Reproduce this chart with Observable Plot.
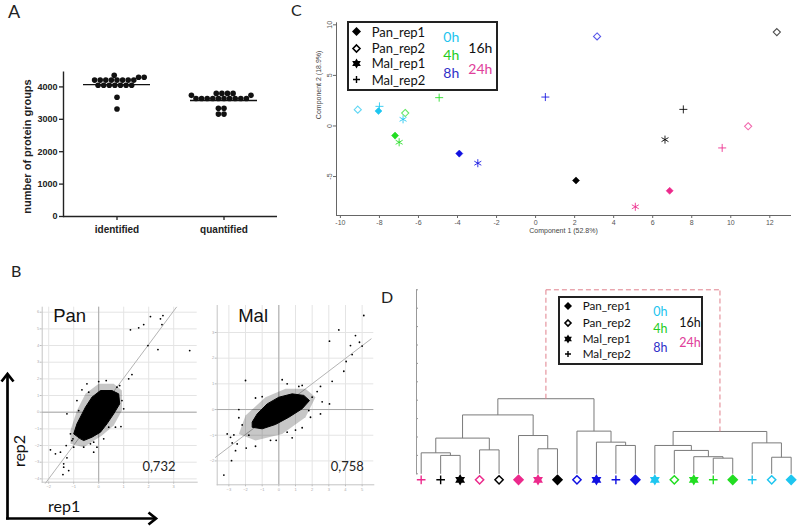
<!DOCTYPE html>
<html><head><meta charset="utf-8">
<script src="https://cdn.jsdelivr.net/npm/d3@7"></script>
<script src="https://cdn.jsdelivr.net/npm/@observablehq/plot@0.6"></script>
<style>
html,body{margin:0;padding:0;background:#fff;}
#fig{position:relative;width:800px;height:527px;overflow:hidden;background:#fff;font-family:Lato,"Open Sans",sans-serif;}
.t{position:absolute;line-height:1;white-space:nowrap;font-family:Lato,"Open Sans",sans-serif;}
.legend{position:absolute;border:2px solid #222;background:#fff;box-sizing:border-box;}
.legend .t{transform:translateY(-50%);}
.legend svg{position:absolute;}
</style></head><body><div id="fig"></div>
<script>
// ---------- Panel A data (listed in swarm placement order) ----------
const aCategories = ["identified", "quantified"];
const aIdentified = [4210, 4210, 4210, 4210, 4210, 4210, 4210, 4210, 4050, 4050, 4050, 4050, 4050, 4050, 4050, 4300, 4300, 4360, 3680, 3320];
const aQuantified = [3640, 3640, 3640, 3640, 3640, 3640, 3640, 3640, 3640, 3640, 3800, 3800, 3800, 3800, 3740, 3740, 3340, 3340, 3160, 3160];
const aMedians = [4070, 3580];
const aTicks = [0, 1000, 2000, 3000, 4000];
const aYLabel = "number of protein groups";

// ---------- Panel B data ([rep1, rep2]) ----------
const panCore = [[-0.73,-1.6],[-1.0,-1.3],[-0.87,-0.7],[-0.53,0.3],[-0.27,0.9],[0.07,1.3],[0.53,1.3],[0.8,1.1],[0.84,0.5],[0.6,-0.1],[0.33,-0.7],[0.07,-1.2],[-0.27,-1.5],[-0.6,-1.7]];
const panHalo = [[-1.13,-1.9],[-0.6,-2.1],[0.13,-1.4],[0.6,-0.8],[0.93,0.1],[0.93,1.3],[0.6,1.7],[0,1.7],[-0.53,1.1],[-0.87,0.1],[-1.13,-1.1]];
const panPoints = [[2.07,5.74],[2.57,5.8],[2.47,5.6],[1.8,5.26],[1.6,5.06],[1.27,4.94],[2.53,5.26],[1.97,4.0],[2.37,3.76],[3.64,3.7],[1.33,2.26],[1.2,2.0],[0.84,1.6],[0,1.84],[-0.47,1.7],[-0.67,1.34],[-1.27,-0.1],[-1.93,-2.26],[-1.73,-2.5],[-1.53,-2.4],[-1.4,-3.1],[-1.4,-3.3],[-1.43,-3.74],[-1.2,-3.5],[-1.27,-2.74],[-1.07,-1.7],[-1.0,-2.1],[-0.6,-2.1],[-0.2,-1.8],[0.89,-0.86],[0.67,-0.9],[0.4,-0.9],[-0.87,0.7],[-0.8,0.1],[0.73,1.5],[0.93,0.7],[-1.13,-1.3],[-1.03,-1.6],[-0.33,-1.9],[-0.07,-2.1],[1.0,0.2],[0.3,1.9],[-0.4,1.2],[-1.3,-2.0],[-0.2,-2.4],[0.2,-1.6]];
const panFit = [[-2.13,-4.26],[3.11,6.3]];
const panXTicks = [-2,-1,0,1,2,3];
const panYTicks = [-4,-3,-2,-1,0,1,2,3,4,5,6];
const panR = "0,732";

const malCore = [[-1.6,-0.69],[-1.0,-0.75],[-0.2,-0.58],[0.6,-0.3],[1.4,0.03],[1.84,0.35],[1.5,0.55],[0.8,0.61],[0,0.48],[-0.7,0.22],[-1.3,-0.17],[-1.6,-0.49]];
const malHalo = [[-2.4,-0.95],[-1.4,-1.21],[0.2,-0.95],[1.6,-0.3],[2.2,0.48],[1.6,0.81],[0.4,0.81],[-0.8,0.48],[-2.0,-0.23]];
const malPoints = [[5.1,3.66],[3.6,3.1],[4.6,2.88],[4.84,2.62],[5.0,2.47],[3.04,2.66],[4.3,2.49],[4.4,2.14],[4.04,1.87],[3.9,1.49],[3.2,1.1],[2.5,0.9],[3.04,0.22],[2.5,-0.17],[1.4,-0.71],[-2.0,1.13],[0.2,1.16],[-1.4,0.45],[-2.4,0],[-2.4,-0.32],[-3.1,-0.95],[-2.7,-0.99],[-2.9,-1.08],[-2.5,-1.34],[-2.6,-1.6],[-1.96,-1.5],[-2.84,-1.99],[-3.3,-2.55],[-1.4,-1.43],[-0.16,-1.2],[0.5,-0.88],[1.8,-0.04],[2.0,0.48],[1.4,0.94],[2.3,0.7],[2.6,0.3],[1.9,-0.3],[1.0,-0.8],[-0.5,-1.2],[-1.8,-1.0],[-2.2,-0.6],[-1.0,0.5],[0.5,1.0],[1.2,0.9],[-2.8,-1.3],[0.8,-1.1]];
const malFit = [[-3.8,-1.86],[5.54,2.75]];
const malXTicks = [-3,-2,-1,0,1,2,3,4,5];
const malYTicks = [-2,-1,0,1,2,3];
const malR = "0,758";

// ---------- Panel C data ----------
const sampleTypes = ["Pan_rep1", "Pan_rep2", "Mal_rep1", "Mal_rep2"];
const timeLabels = ["0h", "4h", "8h", "16h", "24h"];
const pcaSample = ["Pan_rep1","Pan_rep1","Pan_rep1","Pan_rep1","Pan_rep1","Pan_rep2","Pan_rep2","Pan_rep2","Pan_rep2","Pan_rep2","Mal_rep1","Mal_rep1","Mal_rep1","Mal_rep1","Mal_rep1","Mal_rep2","Mal_rep2","Mal_rep2","Mal_rep2","Mal_rep2"];
const pcaTime = ["0h","4h","8h","16h","24h","0h","4h","8h","16h","24h","0h","4h","8h","16h","24h","0h","4h","8h","16h","24h"];
const pcaX = [-8.05,-7.2,-3.91,2.07,6.87,-9.11,-6.68,3.15,12.36,10.89,-6.79,-6.99,-2.96,6.63,5.11,-8.0,-4.94,0.5,7.57,9.56];
const pcaY = [1.48,-0.95,-2.73,-5.39,-6.41,1.61,1.28,8.85,9.28,-0.03,0.66,-1.61,-3.68,-1.35,-7.99,1.94,2.8,2.86,1.64,-2.17];
const pcaXTicks = [-10,-8,-6,-4,-2,0,2,4,6,8,10,12];
const pcaYTicks = [-5,0,5,10];
const pcaXLabel = "Component 1 (52.8%)";
const pcaYLabel = "Component 2 (18.9%)";

// ---------- Panel D data ----------
const dLeafSample = ["Mal_rep2","Mal_rep2","Mal_rep1","Pan_rep2","Pan_rep2","Pan_rep1","Mal_rep1","Pan_rep1","Pan_rep2","Mal_rep1","Mal_rep2","Pan_rep1","Mal_rep1","Pan_rep2","Mal_rep1","Mal_rep2","Pan_rep1","Mal_rep2","Pan_rep2","Pan_rep1"];
const dLeafTime = ["24h","16h","16h","24h","16h","24h","24h","16h","8h","8h","8h","8h","0h","4h","4h","4h","4h","0h","0h","0h"];
// merges: [child a, child b, height]; leaves are 0..19, merge k becomes node 20+k
const dMerges = [[1,2,1.0],[0,20,1.14],[3,4,1.3],[21,22,1.94],[6,7,1.36],[5,24,2.08],[23,25,3.2],[10,11,1.54],[9,27,1.72],[8,28,2.32],[26,29,4.08],[15,16,0.85],[14,31,0.93],[13,32,1.27],[12,33,1.54],[18,19,0.9],[17,35,1.68],[34,36,2.3],[30,37,10]];
const dTicks = [0,1,2,3,4,5,6,7,8,9,10];

// ---------- styles ----------
const timeColors = {"0h":"#1ec6f0","4h":"#22dd22","8h":"#1010e0","16h":"#000000","24h":"#ec2a8c"};
const timeText = {"0h":"#22c4ee","4h":"#22cc22","8h":"#3030c8","16h":"#111111","24h":"#e0409a"};

const fig = document.getElementById("fig");
function place(node, left, top) {
  node.style.position = "absolute"; node.style.left = left + "px"; node.style.top = top + "px";
  fig.appendChild(node);
}
function label(text, left, top, css) {
  const d = document.createElement("div"); d.className = "t"; d.textContent = text;
  d.style.cssText += css || ""; place(d, left, top); return d;
}

// hexagram (six-pointed star) symbol
const hexagram = {
  draw(context, size) {
    const R = Math.sqrt(size) * 0.75;
    for (const off of [-Math.PI / 2, Math.PI / 2]) {
      for (let k = 0; k < 3; k++) {
        const a = off + k * 2 * Math.PI / 3;
        const px = R * Math.cos(a), py = R * Math.sin(a);
        if (k) context.lineTo(px, py); else context.moveTo(px, py);
      }
      context.closePath();
    }
  }
};

// ---------- Panel A ----------
const aBase = {
  width: 290, height: 190,
  marginLeft: 63, marginRight: 13, marginTop: 11.7, marginBottom: 34,
  fx: {domain: aCategories, padding: 0, label: null, axis: null},
  y: {domain: [0, 4454], axis: null}
};
const aRaw = [
  ...aIdentified.map(v => ({cat: aCategories[0], v})),
  ...aQuantified.map(v => ({cat: aCategories[1], v}))
];
// y pixel positions from Plot's own y scale, then a symmetric swarm (beeswarm) offset per category
const aYScale = Plot.plot({...aBase, marks: [Plot.dot(aRaw, {fx: "cat", y: "v"})]}).scale("y");
const aR = 2.8, aD = 2 * aR;
function swarm(values) {
  const placed = [];
  return values.map(v => {
    const y = aYScale.apply(v);
    const cands = [0];
    for (const p of placed) {
      const dy = Math.abs(y - p.y);
      if (dy < aD) { const dx = Math.sqrt(aD * aD - dy * dy); cands.push(p.x - dx, p.x + dx); }
    }
    cands.sort((a, b) => Math.abs(a) - Math.abs(b) || a - b);
    const x = cands.find(c => placed.every(p => Math.hypot(c - p.x, y - p.y) >= aD - 1e-6));
    placed.push({x, y});
    return x;
  });
}
const aData = aCategories.flatMap((cat, ci) => {
  const vals = ci === 0 ? aIdentified : aQuantified;
  const offs = swarm(vals);
  return vals.map((v, i) => ({cat, v, off: offs[i]}));
});
const aMed = aCategories.map((cat, i) => ({cat, v: aMedians[i]}));
const plotA = Plot.plot({
  ...aBase,
  x: {domain: [-53.5, 53.5], axis: null},
  style: {fontFamily: "'Liberation Sans', Arial, sans-serif", fontWeight: "bold", fontSize: "9px", color: "#222", background: "transparent"},
  marks: [
    Plot.axisY({ticks: aTicks, tickSize: 4, tickPadding: 2, label: null, tickFormat: d => String(d), strokeWidth: 1.3}),
    Plot.axisFx({anchor: "bottom", tickSize: 4, tickPadding: 5, label: null, fontSize: 10, strokeWidth: 1.3}),
    Plot.ruleY([0], {strokeWidth: 1.4, stroke: "#222"}),
    Plot.frame({anchor: "left", facetAnchor: "left", strokeWidth: 1.4, stroke: "#222"}),
    Plot.dot(aData, {fx: "cat", x: "off", y: "v", r: aR, fill: "#111", stroke: "none"}),
    Plot.ruleY(aMed, {fx: "cat", y: "v", insetLeft: 20, insetRight: 20, strokeWidth: 1.4, stroke: "#111"})
  ]
});
place(plotA, 0, 60);
label(aYLabel, -43.3, 140.5, "font-family:'Liberation Sans',Arial,sans-serif;font-weight:bold;font-size:11px;color:#222;width:140px;text-align:center;transform:rotate(-90deg);transform-origin:center;");

// ---------- Panel B ----------
function scatter(o) {
  const P = d => d[0], Q = d => d[1];
  return Plot.plot({
    width: o.width, height: o.height,
    marginLeft: o.ml, marginTop: o.mt, marginBottom: o.mb, marginRight: o.mr,
    x: {domain: o.xd, axis: null}, y: {domain: o.yd, axis: null},
    style: {fontFamily: "'Liberation Sans', Arial, sans-serif", fontSize: "4px", color: "#999", background: "transparent"},
    marks: [
      Plot.gridX(o.xt, {stroke: "#e4e4e4", strokeOpacity: 1}),
      Plot.gridY(o.yt, {stroke: "#e4e4e4", strokeOpacity: 1}),
      Plot.axisX(o.xt, {tickSize: 2, tickPadding: 1, label: null, stroke: "#bbb", fill: "#aaa"}),
      Plot.axisY(o.yt, {tickSize: 2, tickPadding: 1, label: null, stroke: "#bbb", fill: "#aaa"}),
      Plot.frame({anchor: "left", stroke: "#c4c4c4"}),
      Plot.frame({anchor: "bottom", stroke: "#c4c4c4"}),
      Plot.ruleX([0], {stroke: "#a8a8a8"}),
      Plot.ruleY([0], {stroke: "#a8a8a8"}),
      Plot.line(o.fit, {x: P, y: Q, stroke: "#b4b4b4", strokeWidth: 1}),
      Plot.hull(o.halo, {x: P, y: Q, fill: "#000", fillOpacity: 0.22, stroke: "none"}),
      Plot.hull(o.core, {x: P, y: Q, fill: "#000", stroke: "#000", strokeWidth: 1, curve: "catmull-rom-closed"}),
      Plot.dot(o.pts, {x: P, y: Q, r: 0.9, fill: "#000"}),
      Plot.text([o.name], {frameAnchor: "top-left", dx: o.nameDx, dy: o.nameDy, lineAnchor: "top", textAnchor: "start", fontSize: 18.5, fill: "#111"}),
      Plot.text([o.rtext], {frameAnchor: "bottom-right", dx: o.rDx, dy: o.rDy, lineAnchor: "middle", textAnchor: "end", fontSize: 13, fill: "#222", fontFamily: "Lato, 'Open Sans', sans-serif"})
    ]
  });
}
const plotPan = scatter({width: 205, height: 195, ml: 41.7, mt: 6.7, mb: 13.3, mr: 8.3,
  xd: [-2.26, 3.94], yd: [-4.2, 6.3], xt: panXTicks, yt: panYTicks,
  core: panCore, halo: panHalo, pts: panPoints, fit: panFit, name: "Pan", nameDx: 11, nameDy: 1.6,
  rtext: panR, rDx: -21.7, rDy: -15.5});
place(plotPan, 0, 300);
const plotMal = scatter({width: 175, height: 195, ml: 11.7, mt: 5, mb: 10.7, mr: 6.7,
  xd: [-3.7, 5.7], yd: [-2.93, 4.05], xt: malXTicks, yt: malYTicks,
  core: malCore, halo: malHalo, pts: malPoints, fit: malFit, name: "Mal", nameDx: 21, nameDy: 3.3,
  rtext: malR, rDx: -10, rDy: -18.3});
place(plotMal, 205, 300);

// ---------- Panel C ----------
const pca = pcaX.map((x, i) => ({x, y: pcaY[i], sample: pcaSample[i], time: pcaTime[i]}));
const col = d => timeColors[d.time];
const plotC = Plot.plot({
  width: 510, height: 245,
  marginLeft: 46, marginRight: 10, marginTop: 22.3, marginBottom: 30,
  x: {domain: [-10.2, 13.06], axis: null}, y: {domain: [-8.85, 10.2], axis: null},
  style: {fontFamily: "'Liberation Sans', Arial, sans-serif", fontSize: "7px", color: "#555", background: "transparent"},
  marks: [
    Plot.frame({anchor: "left", stroke: "#666"}),
    Plot.frame({anchor: "bottom", stroke: "#666"}),
    Plot.axisX({ticks: pcaXTicks, tickSize: 3, tickPadding: 1.5, label: null, tickFormat: d => String(d), stroke: "#666"}),
    Plot.axisY({ticks: pcaYTicks, tickSize: 3, tickPadding: 2, label: null, tickFormat: d => String(d), tickRotate: -90, textAnchor: "middle", lineAnchor: "bottom", stroke: "#666"}),
    Plot.text([pcaXLabel], {frameAnchor: "bottom", dy: 17.5, fontSize: 7, fill: "#444"}),
    Plot.text([pcaYLabel], {frameAnchor: "left", dx: -18, rotate: -90, fontSize: 7, fill: "#444"}),
    Plot.dot(pca.filter(d => d.sample === sampleTypes[0]), {x: "x", y: "y", symbol: "diamond2", r: 3.2, fill: col, stroke: col, strokeWidth: 0.5}),
    Plot.dot(pca.filter(d => d.sample === sampleTypes[1]), {x: "x", y: "y", symbol: "diamond2", r: 3.2, fill: "none", stroke: col, strokeOpacity: 0.7, strokeWidth: 1.1}),
    Plot.dot(pca.filter(d => d.sample === sampleTypes[2]), {x: "x", y: "y", symbol: "asterisk", r: 3.8, fill: "none", stroke: col, strokeOpacity: 0.85, strokeWidth: 1}),
    Plot.dot(pca.filter(d => d.sample === sampleTypes[3]), {x: "x", y: "y", symbol: "plus", r: 2.7, fill: "none", stroke: col, strokeOpacity: 0.85, strokeWidth: 1})
  ]
});
place(plotC, 290, 0);

// ---------- Panel D ----------
const nodeX = d3.range(20), nodeH = d3.range(20).map(() => 0);
const segs = [], rootSegs = [];
dMerges.forEach(([a, b, h], k) => {
  const id = 20 + k;
  nodeX[id] = (nodeX[a] + nodeX[b]) / 2; nodeH[id] = h;
  const target = k === dMerges.length - 1 ? rootSegs : segs;
  target.push({x1: nodeX[a], y1: nodeH[a], x2: nodeX[a], y2: h},
              {x1: nodeX[a], y1: h, x2: nodeX[b], y2: h},
              {x1: nodeX[b], y1: nodeH[b], x2: nodeX[b], y2: h});
});
const leaves = dLeafSample.map((s, i) => ({i, sample: s, time: dLeafTime[i]}));
const dcol = d => timeColors[d.time];
const plotD = Plot.plot({
  width: 400, height: 220,
  marginLeft: 16, marginRight: 0, marginTop: 9.3, marginBottom: 26.7,
  x: {domain: [-0.24, 19.48], axis: null}, y: {domain: [0, 10], axis: null},
  style: {background: "transparent"},
  marks: [
    Plot.frame({anchor: "left", stroke: "#999"}),
    Plot.axisY({ticks: dTicks, tickSize: 2, dx: 2, tickFormat: () => "", label: null, stroke: "#999"}),
    Plot.link(segs, {x1: "x1", y1: "y1", x2: "x2", y2: "y2", stroke: "#7a7a7a", strokeWidth: 1}),
    Plot.link(rootSegs, {x1: "x1", y1: "y1", x2: "x2", y2: "y2", stroke: "#e0808c", strokeWidth: 1, strokeDasharray: "5,3"}),
    Plot.dot(leaves.filter(d => d.sample === sampleTypes[0]), {x: "i", y: 0, dy: 6, symbol: "diamond2", r: 4.1, fill: dcol, stroke: dcol}),
    Plot.dot(leaves.filter(d => d.sample === sampleTypes[1]), {x: "i", y: 0, dy: 6, symbol: "diamond2", r: 3.7, fill: "white", stroke: dcol, strokeWidth: 1.5}),
    Plot.dot(leaves.filter(d => d.sample === sampleTypes[2]), {x: "i", y: 0, dy: 6, symbol: hexagram, r: 4.3, fill: dcol, stroke: "none"}),
    Plot.dot(leaves.filter(d => d.sample === sampleTypes[3]), {x: "i", y: 0, dy: 6, symbol: "plus", r: 2.9, fill: "none", stroke: dcol, strokeWidth: 1.4})
  ]
});
place(plotD, 400, 280);

// ---------- Legends (HTML) ----------
function symbolSVG(type, s) {
  const c = s / 2, h = s / 2 - 1;
  let inner = "";
  if (type === sampleTypes[0]) inner = `<path d="M${c},${c-h}L${c+h},${c}L${c},${c+h}L${c-h},${c}Z" fill="#000"/>`;
  else if (type === sampleTypes[1]) { const g = h - 1; inner = `<path d="M${c},${c-g}L${c+g},${c}L${c},${c+g}L${c-g},${c}Z" fill="none" stroke="#000" stroke-width="1.6"/>`; }
  else if (type === sampleTypes[2]) {
    const R = h + 0.5; let d = "";
    for (const off of [-Math.PI / 2, Math.PI / 2]) {
      for (let k = 0; k < 3; k++) { const a = off + k * 2 * Math.PI / 3; d += (k ? "L" : "M") + (c + R * Math.cos(a)).toFixed(2) + "," + (c + R * Math.sin(a)).toFixed(2); }
      d += "Z";
    }
    inner = `<path d="${d}" fill="#000"/>`;
  } else { const g = h - 1; inner = `<path d="M${c-g},${c}H${c+g}M${c},${c-g}V${c+g}" stroke="#000" stroke-width="1.4"/>`; }
  return `<svg width="${s}" height="${s}" viewBox="0 0 ${s} ${s}">${inner}</svg>`;
}
function legend(o) {
  const box = document.createElement("div"); box.className = "legend";
  box.style.width = o.w + "px"; box.style.height = o.h + "px";
  sampleTypes.forEach((s, i) => {
    const sy = document.createElement("div");
    sy.innerHTML = symbolSVG(s, o.sym);
    const svg = sy.firstChild; svg.style.left = (o.symX - o.sym / 2) + "px"; svg.style.top = (o.rows[i] - o.sym / 2) + "px";
    box.appendChild(svg);
    const t = document.createElement("div"); t.className = "t"; t.textContent = s;
    t.style.left = o.textX + "px"; t.style.top = o.rows[i] + "px"; t.style.fontSize = o.fs + "px"; t.style.color = "#111";
    box.appendChild(t);
  });
  timeLabels.forEach((tl, i) => {
    const t = document.createElement("div"); t.className = "t"; t.textContent = tl;
    t.style.left = o.timeX[i] + "px"; t.style.top = o.timeY[i] + "px"; t.style.fontSize = o.tfs + "px"; t.style.color = timeText[tl];
    box.appendChild(t);
  });
  place(box, o.left, o.top);
}
legend({left: 346.7, top: 20.7, w: 151, h: 70, sym: 11, symX: 8, textX: 23, rows: [9, 25.6, 40.6, 57.3], fs: 13,
  tfs: 14, timeX: [94.6, 94.6, 94.6, 119.6, 119.6], timeY: [14, 32.3, 50, 25.3, 46.3]});
legend({left: 557.7, top: 295.7, w: 145, h: 69, sym: 10, symX: 8.6, textX: 23, rows: [8.3, 25, 41.6, 56.3], fs: 11.7,
  tfs: 12.5, timeX: [93.6, 93.6, 93.6, 119.6, 119.6], timeY: [14.6, 31.6, 50.6, 25.6, 45.6]});

// ---------- Panel letters and B-axis annotation ----------
label("A", 8, 2, "font-size:18px;color:#222;");
label("B", 11, 263, "font-size:16px;color:#222;");
label("C", 291, 2, "font-size:16px;color:#222;");
label("D", 381, 289, "font-size:16px;color:#222;");
label("rep1", 48, 498, "font-size:16px;color:#111;");
label("rep2", 3, 443, "font-size:16px;color:#111;transform:rotate(-90deg);transform-origin:center;");

const ns = "http://www.w3.org/2000/svg";
const arr = document.createElementNS(ns, "svg");
arr.setAttribute("width", 800); arr.setAttribute("height", 527);
arr.style.pointerEvents = "none";
arr.innerHTML = `<g stroke="#000" stroke-width="2.7" fill="none" stroke-linejoin="miter">
<path d="M7.5,519.5V375"/><path d="M1.5,381.5L7.5,374L13.5,381.5"/>
<path d="M6,518.5H155"/><path d="M148.5,512.5L156,518.5L148.5,524.5"/></g>`;
place(arr, 0, 0);
</script></body></html>
